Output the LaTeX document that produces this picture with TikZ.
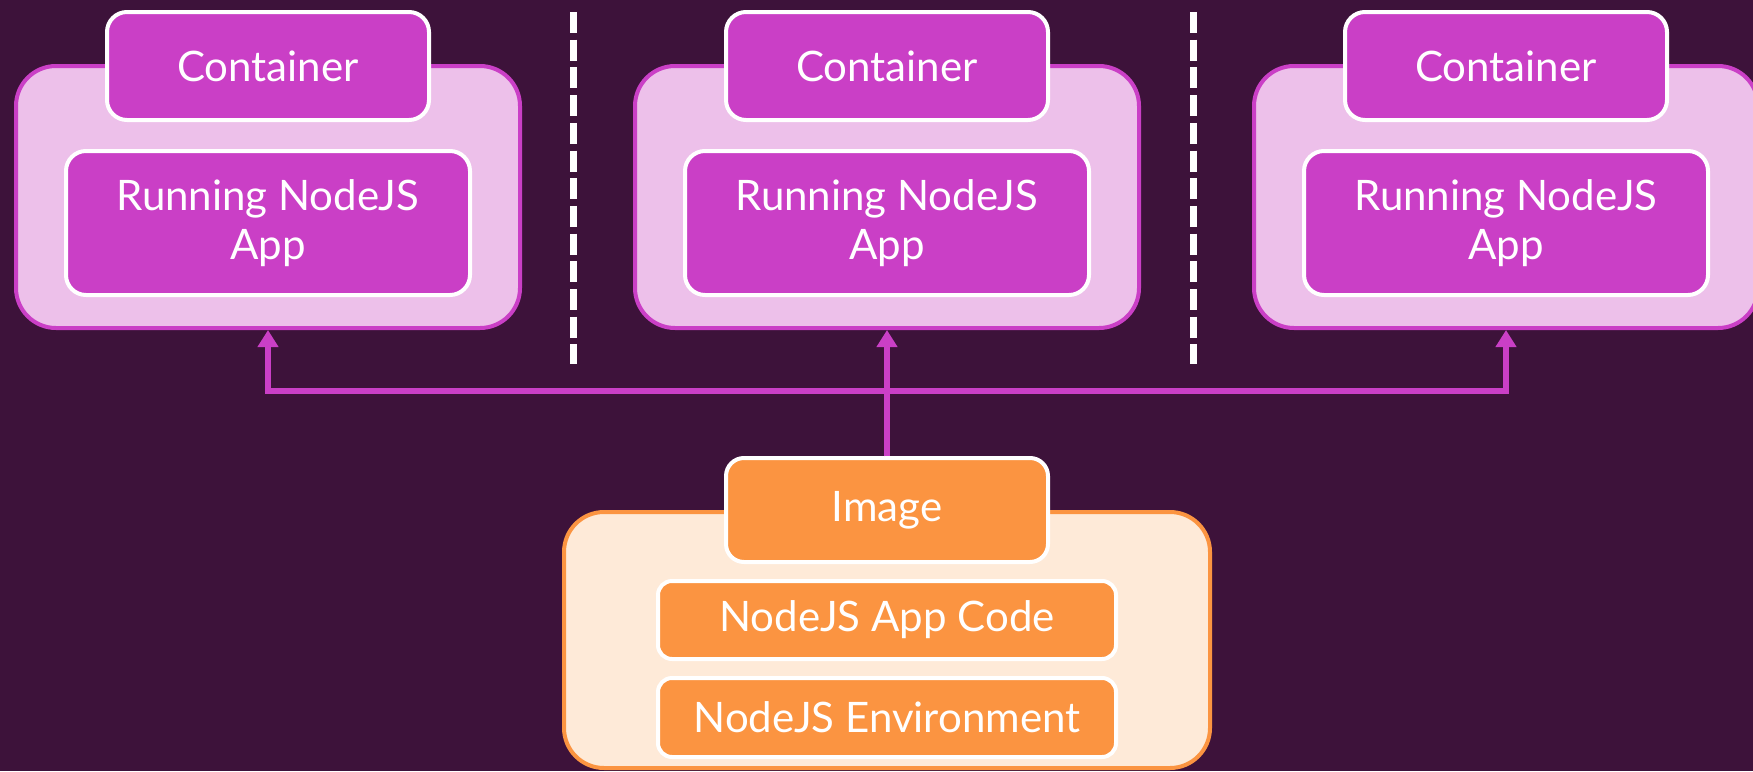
\documentclass[tikz,border=0pt]{standalone}
\usepackage{fontspec}
\setmainfont{Lato}
\usetikzlibrary{arrows.meta}
\definecolor{bgc}{HTML}{3D123A}
\definecolor{mag}{HTML}{CA3FC6}
\definecolor{pinkl}{HTML}{EDC0EA}
\definecolor{orng}{HTML}{FB9441}
\definecolor{orngl}{HTML}{FEEAD8}
\tikzset{
  box/.style={inner sep=0pt, line width=4pt, text=white, align=center,
    font=\fontsize{42}{49}\selectfont},
  outerC/.style={box, draw=mag, fill=pinkl, rounded corners=40pt, minimum width=504pt, minimum height=262pt},
  labC/.style={box, draw=white, fill=mag, rounded corners=20pt},
  outerI/.style={box, draw=orng, fill=orngl, rounded corners=40pt, minimum width=646pt, minimum height=256pt},
  labI/.style={box, draw=white, fill=orng, rounded corners=18pt},
  divider/.style={draw=white, line width=7pt, dash pattern=on 21pt off 6.7pt},
  arr/.style={draw=mag, line width=6pt, -{Triangle[width=20pt,length=17pt]}}
}
\begin{document}
\begin{tikzpicture}[x=1pt,y=-1pt]
\fill[bgc] (0,0) rectangle (1753,771);
\useasboundingbox (0,0) rectangle (1753,771);
\clip (0,0) rectangle (1753,771);
% containers
\foreach \i/\cx in {1/268,2/887,3/1506}{
  \node[outerC] (outer\i) at (\cx,197) {};
  \node[labC, minimum width=322pt, minimum height=108pt] (cont\i) at (\cx,66) {Container};
  \node[labC, minimum width=404pt, minimum height=144pt] (run\i) at (\cx,223) {Running NodeJS\\App};
}
% dividers
\draw[divider] (573,12) -- (573,364);
\draw[divider] (1193,12) -- (1193,364);
% image
\node[outerI] (imgouter) at (887,640) {};
\node[labI, minimum width=322pt, minimum height=104pt] (imglabel) at (887,510) {Image};
\node[labI, rounded corners=14pt, minimum width=458pt, minimum height=78pt] (code) at (887,620) {NodeJS App Code};
\node[labI, rounded corners=14pt, minimum width=458pt, minimum height=79pt] (env) at (887,717.5) {NodeJS Environment};
% arrows
\coordinate (junc) at (887,391);
\draw[arr] (imglabel.north) -- (outer2.south);
\draw[arr] (imglabel.north) |- (outer1.south |- junc) -- (outer1.south);
\draw[arr] (imglabel.north) |- (outer3.south |- junc) -- (outer3.south);
\end{tikzpicture}
\end{document}
